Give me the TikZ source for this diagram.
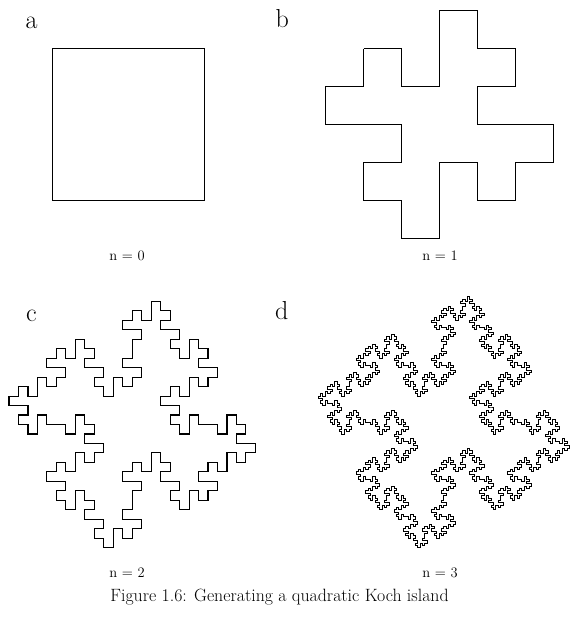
\documentclass[tikz,border=0pt]{standalone}
\usetikzlibrary{lindenmayersystems}
\pgfdeclarelindenmayersystem{QKoch}{\rule{F -> F-F+F+FF-F-F+F}}
\tikzset{
  panel/.style={font=\fontsize{26}{26}\selectfont, anchor=base west, inner sep=0pt},
  nlab/.style={font=\fontsize{14.5}{14.5}\selectfont, anchor=base, inner sep=0pt},
  capt/.style={font=\fontsize{17.8}{17.8}\selectfont, anchor=base, inner sep=0pt},
  koch/.style={line width=1.1pt, line join=miter, black}
}
\begin{document}
\begin{tikzpicture}[x=1pt,y=1pt]
\useasboundingbox (0,0) rectangle (582,632);
% panel letters
\node[panel] (la) at (25.5,632-28.3) {a};
\node[panel] (lb) at (275.5,632-27.5) {b};
\node[panel] (lc) at (26,632-322) {c};
\node[panel] (ld) at (275,632-320) {d};
% curves
\draw[koch] (52.7,583.2) rectangle ++(151.6,-151.6);
\begin{scope}[shift={(363.7,583.3)}]
\draw[koch, l-system={QKoch, axiom=F-F-F-F, order=1, step=37.9pt, angle=90}] (0,0) l-system;
\end{scope}
\begin{scope}[shift={(56.4,283.3)}]
\draw[koch, l-system={QKoch, axiom=F-F-F-F, order=2, step=9.475pt, angle=90}] (0,0) l-system;
\end{scope}
\begin{scope}[shift={(368,285.6)}]
\draw[koch, line width=1pt, l-system={QKoch, axiom=F-F-F-F, order=3, step=2.369pt, angle=90}] (0,0) l-system;
\end{scope}
% labels
\node[nlab] (n0) at (127,632-261) {n = 0};
\node[nlab] (n1) at (440,632-261) {n = 1};
\node[nlab] (n2) at (127,632-578) {n = 2};
\node[nlab] (n3) at (440,632-578) {n = 3};
\node[capt] (cap) at (279.5,632-602) {Figure 1.6: Generating a quadratic Koch island};
\end{tikzpicture}
\end{document}
